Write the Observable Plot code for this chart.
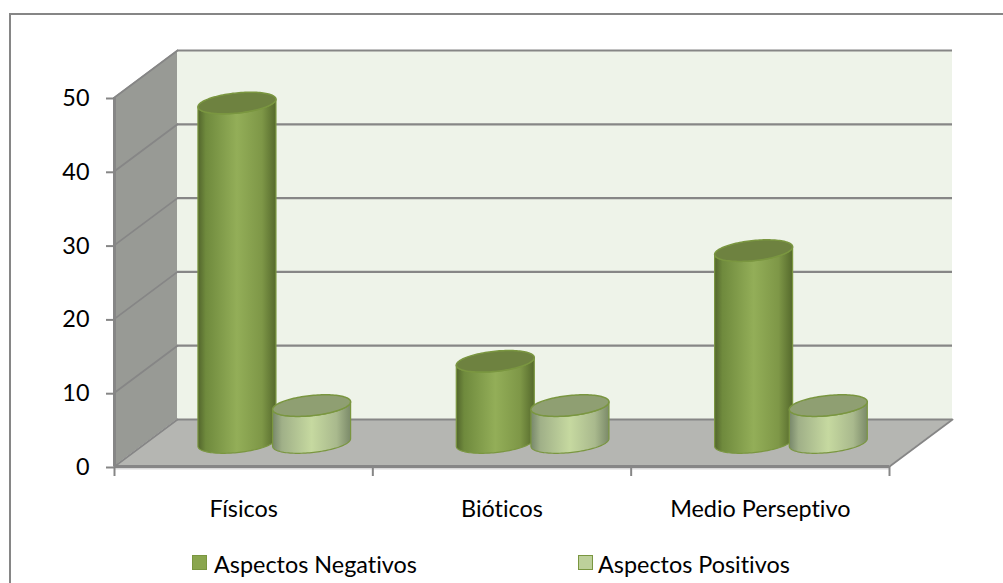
<!DOCTYPE html>
<html>
<head>
<meta charset="utf-8">
<script src="https://cdn.jsdelivr.net/npm/d3@7"></script>
<script src="https://cdn.jsdelivr.net/npm/@observablehq/plot@0.6"></script>
<style>
html,body{margin:0;padding:0;background:#fff;overflow:hidden}
#page{position:relative;width:1003px;height:583px;overflow:hidden;font-family:Lato,sans-serif;color:#000;font-variant-ligatures:none}
#frame{position:absolute;left:9px;top:13px;right:-5px;bottom:-5px;border-left:2px solid #868686;border-top:2px solid #868686}
#chart{position:absolute;left:0;top:0}
#chart svg{background:transparent;display:block;font-variant-ligatures:none}
.lg{position:absolute;top:549px;font-size:23.4px;line-height:30px;white-space:nowrap}
.sw{position:absolute;top:555px;width:13px;height:13px;border:1.5px solid #7a9640}
</style>
</head>
<body>
<div id="page">
  <div id="frame"></div>
  <div id="chart"></div>
  <div class="sw" style="left:192px;background:#8aa64e"></div>
  <div class="lg" style="left:214px">Aspectos Negativos</div>
  <div class="sw" style="left:578px;background:#bdd09a"></div>
  <div class="lg" style="left:598px">Aspectos Positivos</div>
</div>
<script>
const categories = ["Físicos", "Bióticos", "Medio Perseptivo"];
const negativos = [46, 11, 26];
const positivos = [5, 5, 5];
const yTicks = [0, 10, 20, 30, 40, 50];

// depth of the box in scale units
const depthX = 63 / 258.33;
const depthY = 47 / 7.38;
// cylinder shape in scale units
const offsetNeg = 0.354, offsetPos = 0.643;
const radiusX = 39 / 258.33, shearAngle = 0.36, radiusY = 10.8 / 7.38;

const cylinder = (u, value) => {
  const cx = u + 0.5 * depthX, base = 0.5 * depthY, top = base + value;
  return d3.range(0, 61).map((i) => {
    const s = (i / 60) * Math.PI;
    return {
      x: cx + radiusX * Math.cos(s),
      lower: radiusY * Math.sin(shearAngle - s),
      upper: radiusY * Math.sin(shearAngle + s),
      base, top
    };
  });
};

const cylinderMarks = (u, value, grad, cap) => {
  const pts = cylinder(u, value);
  const edge = "#7a9640";
  return [
    Plot.areaY(pts, {x: "x", y1: (d) => d.base + d.lower, y2: (d) => d.top + d.lower,
      fill: `url(#${grad})`, stroke: edge, strokeWidth: 1.2}),
    Plot.areaY(pts, {x: "x", y1: (d) => d.top + d.lower, y2: (d) => d.top + d.upper,
      fill: cap, stroke: edge, strokeWidth: 1.5})
  ];
};

const gradient = (id, stops) => () => {
  const defs = d3.create("svg:defs");
  const g = defs.append("linearGradient").attr("id", id)
    .attr("x1", 0).attr("x2", 1).attr("y1", 0).attr("y2", 0);
  stops.forEach(([o, c]) => g.append("stop").attr("offset", o).attr("stop-color", c));
  return defs.node();
};

const gridColor = "#868686";
const plot = Plot.plot({
  width: 1003,
  height: 540,
  x: {type: "linear", domain: [0, 3], range: [114, 889], axis: null},
  y: {type: "linear", domain: [0, 50], range: [466, 97], axis: null},
  marks: [
    gradient("negGrad", [[0, "#52652c"], [0.1, "#6f8a3d"], [0.5, "#93ae58"], [0.82, "#7e9747"], [1, "#55692c"]]),
    gradient("posGrad", [[0, "#77876a"], [0.12, "#a0b088"], [0.5, "#c6d9a0"], [0.82, "#a9b98d"], [1, "#7b8a69"]]),
    // back wall
    Plot.areaY([0, 3], {x: (d) => d + depthX, y1: depthY, y2: 50 + depthY, fill: "#eef3e9"}),
    // left wall
    Plot.areaY([0, 1], {x: (d) => d * depthX, y1: (d) => d * depthY, y2: (d) => 50 + d * depthY, fill: "#989a95"}),
    // floor
    Plot.areaX([0, 1], {y: (d) => d * depthY, x1: (d) => d * depthX, x2: (d) => 3 + d * depthX, fill: "#b5b6b2"}),
    // grid on the back wall
    Plot.ruleY(yTicks, {y: (d) => d + depthY, x1: depthX, x2: 3 + depthX, stroke: gridColor, strokeWidth: 2.2}),
    // grid on the left wall
    ...yTicks.map((t) => Plot.line([0, 1], {x: (d) => d * depthX, y: (d) => t + d * depthY, stroke: gridColor, strokeWidth: 1.8})),
    // right edge of the floor and front edges
    Plot.line([0, 1], {x: (d) => 3 + d * depthX, y: (d) => d * depthY, stroke: gridColor, strokeWidth: 2}),
    Plot.ruleY([0], {x1: 0, x2: 3, stroke: "#d9d9d9", strokeWidth: 2, dy: 2}),
    Plot.ruleX([0], {y1: 0, y2: 50, stroke: gridColor, strokeWidth: 3}),
    Plot.ruleY([0], {x1: 0, x2: 3, stroke: gridColor, strokeWidth: 3}),
    // axes
    Plot.axisY({x: 0, ticks: yTicks, tickSize: 8, tickPadding: 17, stroke: gridColor, strokeWidth: 2,
      fontSize: 23.4, fill: "#000", label: null, dy: 1}),
    Plot.axisX({y: 0, ticks: [0, 1, 2, 3], tickSize: 10, tickFormat: () => "", stroke: gridColor, strokeWidth: 2, label: null}),
    Plot.text(categories, {x: (d, i) => i + 0.5, y: () => 0, dy: 43, text: (d) => d, fontSize: 23.4, fill: "#000"}),
    // cylinders
    ...categories.flatMap((c, i) => [
      ...cylinderMarks(i + offsetNeg, negativos[i], "negGrad", "#6e8240"),
      ...cylinderMarks(i + offsetPos, positivos[i], "posGrad", "#8f9f72")
    ])
  ]
});
plot.style.fontFamily = "Lato, sans-serif";
document.getElementById("chart").append(plot);
</script>
</body>
</html>
